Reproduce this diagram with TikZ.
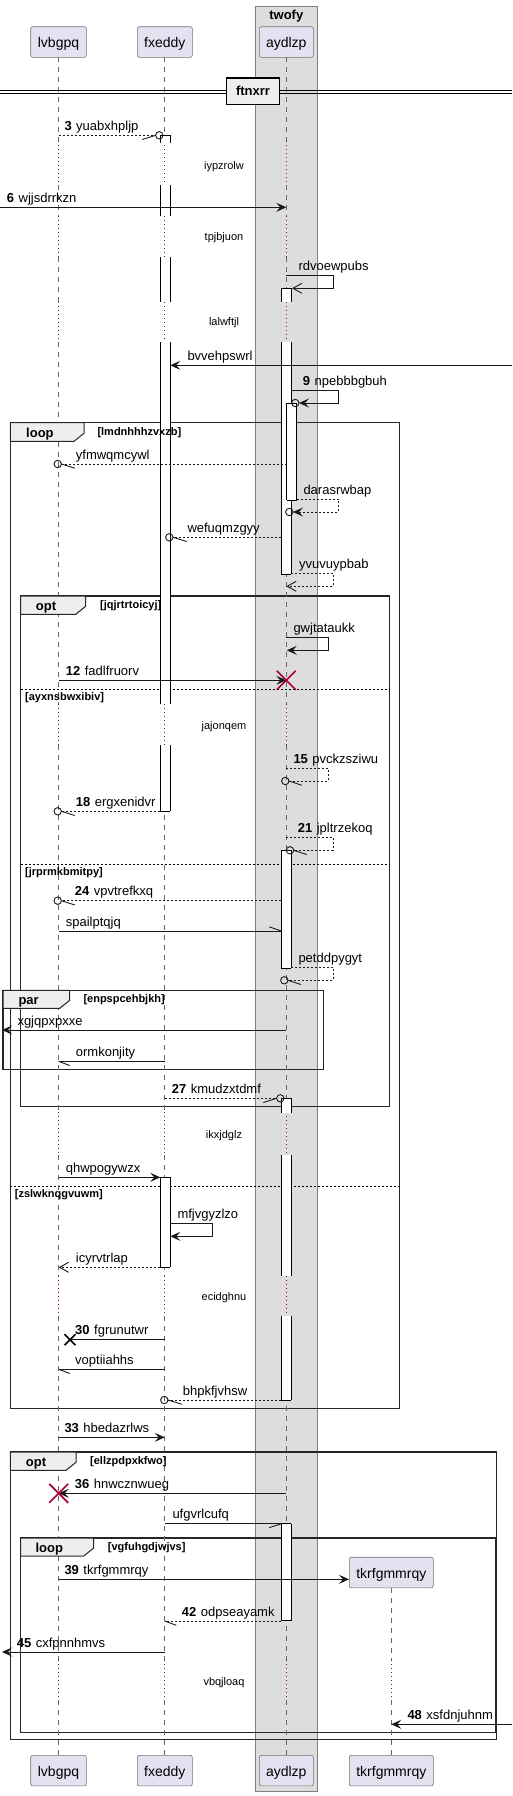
\documentclass[tikz,border=0pt]{standalone}
\usepackage{fontspec}
\setmainfont{Liberation Sans}
\usetikzlibrary{arrows.meta}
\definecolor{pfill}{HTML}{E2E2F0}
\definecolor{crim}{HTML}{A80036}
\definecolor{boxbg}{HTML}{DDDDDD}
\definecolor{tabbg}{HTML}{EEEEEE}
\newcommand{\sn}[1]{\textbf{#1}\hspace{4.5pt}}
\newcommand{\ftab}[4]{\draw[tabst] (#1,#2) -- (#3,#2) -- (#3,#4-8) -- (#3-10,#4) -- (#1,#4) -- cycle;}
\newcommand{\actseg}[4]{\fill[white] (#1,#3) rectangle (#2,#4); \draw[act] (#1,#3) -- (#1,#4) (#2,#3) -- (#2,#4);}
\newcommand{\ocirc}[2]{\draw[msg] (#1,#2) circle (3.7pt);}
\newcommand{\redx}[2]{\draw[crim, line width=1.6pt] (#1-9.5,#2-9.5) -- (#1+9.5,#2+9.5) (#1-9.5,#2+9.5) -- (#1+9.5,#2-9.5);}
\tikzset{
  pbox/.style={draw=black!55, fill=pfill, rounded corners=2pt, line width=0.6pt, minimum height=30.6pt, inner sep=0pt, font=\fontsize{14}{16}\selectfont, text height=12pt, text depth=1pt},
  lifeline/.style={draw=black!60, line width=0.6pt, dash pattern=on 5pt off 5pt},
  delayline/.style={draw=crim, line width=0.8pt, dash pattern=on 1pt off 3pt},
  act/.style={draw=black, line width=0.9pt},
  msg/.style={draw=black!90, line width=0.9pt},
  dmsg/.style={msg, dash pattern=on 2pt off 2pt},
  fa/.style={-{Stealth[length=10pt,width=9pt,inset=4pt]}},
  oa/.style={-{Straight Barb[length=9pt,width=10pt]}},
  frame/.style={draw=black!85, line width=1.5pt},
  tabst/.style={draw=black!85, line width=1pt, fill=tabbg},
  sepline/.style={draw=black, line width=0.8pt, dash pattern=on 2pt off 2pt},
  mlabel/.style={anchor=base west, inner sep=0pt, font=\fontsize{13}{15}\selectfont},
  dlabel/.style={anchor=base, inner sep=0pt, font=\fontsize{11}{13}\selectfont},
  kw/.style={anchor=base west, inner sep=0pt, font=\bfseries\fontsize{13}{15}\selectfont},
  cond/.style={anchor=base west, inner sep=0pt, font=\bfseries\fontsize{11}{13}\selectfont}
}
\begin{document}
\begin{tikzpicture}[x=1pt,y=-1pt]
\useasboundingbox (0,0) rectangle (512,1796);
\fill[white] (0,0) rectangle (512,1796);
% box group
\draw[draw=black!50, fill=boxbg, line width=1pt] (255.3,6) rectangle (317.3,1791.3);
\node[anchor=base, inner sep=0pt, font=\bfseries\fontsize{13}{15}\selectfont] (twofy) at (286.3,19.5) {twofy};
% participants
\node[pbox, minimum width=55.6pt] (lvT) at (58.5,42) {lvbgpq};
\node[pbox, minimum width=55pt] (fxT) at (164.8,42) {fxeddy};
\node[pbox, minimum width=54pt] (ayT) at (286.3,42) {aydlzp};
\node[pbox, minimum width=55.6pt] (lvB) at (58.5,1770.6) {lvbgpq};
\node[pbox, minimum width=55pt] (fxB) at (164.8,1770.6) {fxeddy};
\node[pbox, minimum width=54pt] (ayB) at (286.3,1770.6) {aydlzp};
\node[pbox, minimum width=84pt] (tkB) at (391.3,1770.6) {tkrfgmmrqy};
\node[pbox, minimum width=84pt] (tkT) at (391.3,1572.5) {tkrfgmmrqy};
% frames
\draw[frame] (10.3,422.7) rectangle (399.7,1408.7);
\draw[frame] (20.7,596) rectangle (389.7,1106.3);
\draw[frame] (3,990.3) rectangle (323.7,1069.7);
\draw[frame] (10.3,1452) rectangle (496.7,1739.7);
\draw[frame] (20.7,1538) rectangle (495.3,1732.3);
\draw[sepline] (20.7,689.3) -- (389.7,689.3);
\draw[sepline] (20.7,864) -- (389.7,864);
\draw[sepline] (10.3,1186) -- (399.7,1186);
% lifelines
\foreach \x in {58.7,164.7,286.3}{
  \foreach \a/\b in {57.3/141,185/216,257/302,342/704,745/1112,1155/1275.7,1315.7/1660,1700/1755.3}
    \draw[lifeline] (\x,\a) -- (\x,\b);
  \foreach \a/\b in {141/185,216/257,302/342,704/745,1112/1155,1275.7/1315.7,1660/1700}
    \draw[delayline] (\x,\a) -- (\x,\b);
}
\draw[lifeline] (tkT.south) -- (391.3,1660);
\draw[delayline] (391.3,1660) -- (391.3,1700);
\draw[lifeline] (391.3,1700) -- (tkB.north);
% divider
\draw[black, line width=1pt] (0,90.3) -- (512,90.3) (0,93.3) -- (512,93.3);
\node[draw=black, line width=1.5pt, fill=tabbg, minimum width=52.6pt, minimum height=26.3pt, inner sep=0pt, font=\bfseries\fontsize{13}{15}\selectfont] (div) at (253,91.2) {ftnxrr};
% activations fxeddy
\actseg{160.3}{170.3}{135.3}{143}
\actseg{160.3}{170.3}{185}{216}
\actseg{160.3}{170.3}{257}{302}
\actseg{160.3}{170.3}{342}{704}
\actseg{160.3}{170.3}{745}{811.3}
\draw[act] (160.3,135.3) -- (170.3,135.3) (160.3,811.3) -- (170.3,811.3);
\actseg{160.3}{170.3}{1177.3}{1267.3}
\draw[act] (160.3,1177.3) -- (170.3,1177.3) (160.3,1267.3) -- (170.3,1267.3);
% activations aydlzp
\actseg{281.3}{291.3}{288.3}{302}
\actseg{281.3}{291.3}{342}{574}
\draw[act] (281.3,288.3) -- (291.3,288.3) (281.3,574) -- (291.3,574);
\actseg{286.7}{296.7}{403}{500.3}
\draw[act] (286.7,403) -- (296.7,403) (286.7,500.3) -- (296.7,500.3);
\actseg{281.3}{291.3}{850.3}{968.3}
\draw[act] (281.3,850.3) -- (291.3,850.3) (281.3,968.3) -- (291.3,968.3);
\actseg{281.3}{291.3}{1098.3}{1113.3}
\actseg{281.3}{291.3}{1155}{1275.7}
\actseg{281.3}{291.3}{1315.7}{1400}
\draw[act] (281.3,1098.3) -- (291.3,1098.3) (281.3,1400) -- (291.3,1400);
\actseg{281.3}{291.3}{1523.7}{1620.7}
\draw[act] (281.3,1523.7) -- (291.3,1523.7) (281.3,1620.7) -- (291.3,1620.7);
% tabs
\ftab{10.3}{422.7}{84}{441.3}
\ftab{20.7}{596}{85.7}{614.3}
\ftab{3}{990.3}{69.7}{1008.3}
\ftab{10.3}{1452}{76}{1470.3}
\ftab{20.7}{1538}{93.7}{1556}
\node[kw] at (26,437.3) {loop};
\node[cond] at (97.3,435.5) {[lmdnhhhzvxzb]};
\node[kw] at (35.7,610.5) {opt};
\node[cond] at (100,608.8) {[jqjrtrtoicyj]};
\node[cond] at (25,700.8) {[ayxnsbwxibiv]};
\node[cond] at (25,875.5) {[jrprmkbmitpy]};
\node[kw] at (18.3,1004.5) {par};
\node[cond] at (83.3,1002.8) {[enpspcehbjkh]};
\node[cond] at (14.7,1197.5) {[zslwknqgvuwm]};
\node[kw] at (25.7,1466.5) {opt};
\node[cond] at (90,1464.8) {[ellzpdpxkfwo]};
\node[kw] at (35.3,1552.3) {loop};
\node[cond] at (107.7,1550.5) {[vgfuhgdjwjvs]};
% delays
\node[dlabel] at (224,169.2) {iypzrolw};
\node[dlabel] at (224,240.8) {tpjbjuon};
\node[dlabel] at (224,325.8) {lalwftjl};
\node[dlabel] at (224,729.5) {jajonqem};
\node[dlabel] at (224,1138.8) {ikxjdglz};
\node[dlabel] at (224,1300.5) {ecidghnu};
\node[dlabel] at (224,1685.8) {vbqjloaq};
% messages
\draw[dmsg] (58.7,135.3) -- (155.6,135.3);
\draw[msg] (142.3,139.5) -- (155.6,135.3);
\ocirc{159.3}{135.3}
\node[mlabel] at (64.3,130.3) {\sn{3}yuabxhpljp};
\draw[msg,fa] (0,207.3) -- (286.3,207.3);
\node[mlabel] at (6.7,202.3) {\sn{6}wjjsdrrkzn};
\draw[msg,oa] (286.3,275.3) -- (333.3,275.3) -- (333.3,288.3) -- (292,288.3);
\node[mlabel] at (298.3,270) {rdvoewpubs};
\draw[msg,fa] (512,365.3) -- (170.3,365.3);
\node[mlabel] at (187.3,360.3) {bvvehpswrl};
\draw[msg,fa] (291.3,390.3) -- (338.7,390.3) -- (338.7,403) -- (299,403);
\ocirc{295.3}{403}
\node[mlabel] at (302.7,385.5) {\sn{9}npebbbgbuh};
\draw[dmsg] (286.7,464) -- (61.4,464);
\draw[msg] (74.7,468.2) -- (61.4,464);
\ocirc{57.7}{464}
\node[mlabel] at (75.7,459) {yfmwqmcywl};
\draw[dmsg,fa] (296.7,499.3) -- (338.7,499.3) -- (338.7,512) -- (293,512);
\ocirc{289.3}{512}
\node[mlabel] at (303.3,494.5) {darasrwbap};
\draw[dmsg] (281.3,537.3) -- (173,537.3);
\draw[msg] (186.7,541.5) -- (173,537.3);
\ocirc{169.3}{537.3}
\node[mlabel] at (187.3,532.3) {wefuqmzgyy};
\draw[dmsg,oa] (291.3,573.3) -- (333.3,573.3) -- (333.3,586.3) -- (286.3,586.3);
\node[mlabel] at (299,568.5) {yvuvuypbab};
\draw[msg,fa] (286.3,637.3) -- (328.3,637.3) -- (328.3,650.3) -- (286.8,650.3);
\node[mlabel] at (293.3,632.3) {gwjtataukk};
\draw[msg,fa] (58.7,680.3) -- (286.3,680.3);
\redx{286.3}{680.3}
\node[mlabel] at (65.7,675.3) {\sn{12}fadlfruorv};
\draw[dmsg] (286.3,768.3) -- (328.3,768.3) -- (328.3,781) -- (289,781);
\draw[msg] (301.7,785.2) -- (289,781);
\ocirc{285.3}{781}
\node[mlabel] at (293.3,763.5) {\sn{15}pvckzsziwu};
\draw[dmsg] (160.3,811.3) -- (61.4,811.3);
\draw[msg] (74.7,815.5) -- (61.4,811.3);
\ocirc{57.7}{811.3}
\node[mlabel] at (75.7,806.3) {\sn{18}ergxenidvr};
\draw[dmsg] (286.3,837.3) -- (333.3,837.3) -- (333.3,850.3) -- (293.7,850.3);
\draw[msg] (306.7,854.5) -- (293.7,850.3);
\ocirc{290}{850.3}
\node[mlabel] at (297.7,832.5) {\sn{21}jpltrzekoq};
\draw[dmsg] (281.3,900.7) -- (61.4,900.7);
\draw[msg] (74.7,904.9) -- (61.4,900.7);
\ocirc{57.7}{900.7}
\node[mlabel] at (74.7,895.7) {\sn{24}vpvtrefkxq};
\draw[msg] (58.7,931) -- (281.3,931);
\draw[msg] (269.3,926.8) -- (281.3,931);
\node[mlabel] at (65.7,926) {spailptqjq};
\draw[dmsg] (291.3,967.3) -- (333.3,967.3) -- (333.3,980.3) -- (288,980.3);
\draw[msg] (301,984.5) -- (288,980.3);
\ocirc{284.3}{980.3}
\node[mlabel] at (298.3,962.5) {petddpygyt};
\draw[msg,fa] (286.3,1030) -- (2,1030);
\node[mlabel] at (17.3,1025) {xgjqpxpxxe};
\draw[msg] (164.7,1061.3) -- (58.7,1061.3);
\draw[msg] (69.7,1065.5) -- (58.7,1061.3);
\node[mlabel] at (75.7,1056.3) {ormkonjity};
\draw[dmsg] (164.7,1098.3) -- (276.6,1098.3);
\draw[msg] (263.3,1102.5) -- (276.6,1098.3);
\ocirc{280.3}{1098.3}
\node[mlabel] at (171.7,1093.3) {\sn{27}kmudzxtdmf};
\draw[msg,fa] (58.7,1177.3) -- (160.3,1177.3);
\node[mlabel] at (65.7,1172.3) {qhwpogywzx};
\draw[msg,fa] (170.3,1223.3) -- (212.3,1223.3) -- (212.3,1236.3) -- (170.3,1236.3);
\node[mlabel] at (177.3,1218.5) {mfjvgyzlzo};
\draw[dmsg,oa] (160.3,1267.3) -- (58.7,1267.3);
\node[mlabel] at (75.7,1262.3) {icyrvtrlap};
\draw[msg] (164.7,1339.7) -- (70,1339.7);
\draw[black, line width=1.5pt] (64.5,1334.2) -- (75.5,1345.2) (64.5,1345.2) -- (75.5,1334.2);
\node[mlabel] at (75,1334.7) {\sn{30}fgrunutwr};
\draw[msg] (164.7,1369.3) -- (58.7,1369.3);
\draw[msg] (70,1373.5) -- (58.7,1369.3);
\node[mlabel] at (75,1364.3) {voptiiahhs};
\draw[dmsg] (281.3,1400) -- (168,1400);
\draw[msg] (181.7,1404.2) -- (168,1400);
\ocirc{164.3}{1400}
\node[mlabel] at (182.7,1395) {bhpkfjvhsw};
\draw[msg,fa] (58.7,1437.3) -- (164.7,1437.3);
\node[mlabel] at (64.3,1432.3) {\sn{33}hbedazrlws};
\draw[msg,fa] (286.3,1493.3) -- (58.7,1493.3);
\redx{58.7}{1493.3}
\node[mlabel] at (74.7,1488.3) {\sn{36}hnwcznwueg};
\draw[msg] (164.7,1523.7) -- (281.3,1523.7);
\draw[msg] (269.3,1527.6) -- (281.3,1523.7);
\node[mlabel] at (172.3,1518.7) {ufgvrlcufq};
\draw[msg,fa] (58.7,1579.3) -- (tkT.west |- 0,1579.3);
\node[mlabel] at (64.3,1574.3) {\sn{39}tkrfgmmrqy};
\draw[dmsg] (281.3,1621) -- (164.7,1621);
\draw[msg] (176.3,1625.3) -- (164.7,1621);
\node[mlabel] at (181.7,1616) {\sn{42}odpseayamk};
\draw[msg,fa] (164.7,1652) -- (2,1652);
\node[mlabel] at (16.7,1647) {\sn{45}cxfpnnhmvs};
\draw[msg,fa] (512,1724.3) -- (391.3,1724.3);
\node[mlabel] at (407.3,1719.3) {\sn{48}xsfdnjuhnm};
\end{tikzpicture}
\end{document}
